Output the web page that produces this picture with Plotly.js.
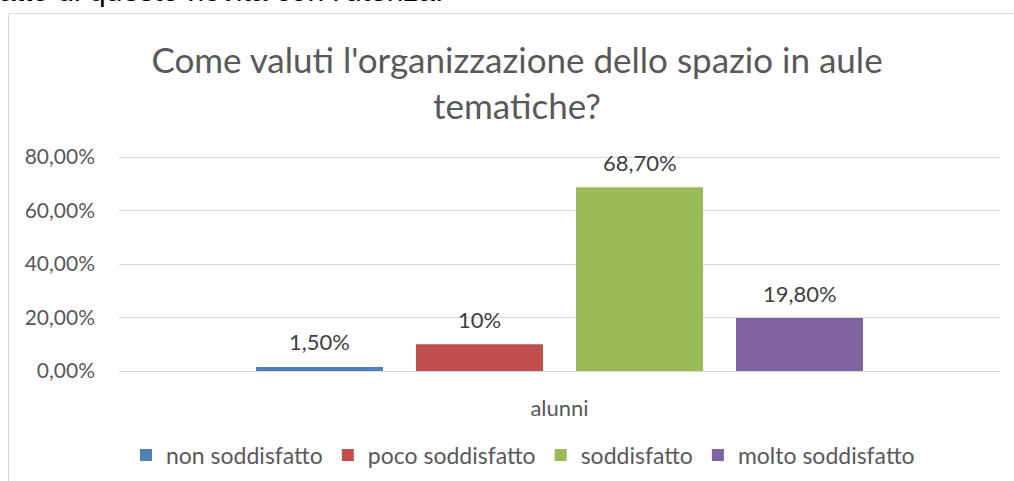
<!DOCTYPE html>
<html>
<head>
<meta charset="utf-8">
<script src="https://cdn.plot.ly/plotly-3.0.1.min.js"></script>
<style>html,body{margin:0;padding:0;background:#fff;}#chart{width:1014px;height:481px;}</style>
</head>
<body>
<div id="chart"></div>
<script>
const category = ["alunni"];
const seriesNames = ["non soddisfatto", "poco soddisfatto", "soddisfatto", "molto soddisfatto"];
const seriesValues = [0.015, 0.10, 0.687, 0.198];
const seriesLabels = ["1,50%", "10%", "68,70%", "19,80%"];
const seriesColors = ["#4f81bd", "#c0504d", "#9bbb59", "#8064a2"];
const yTickValues = [0, 0.2, 0.4, 0.6, 0.8];
const titleText = "Come valuti l'organizzazione dello spazio in aule<br>tematiche?";
const headerText = "atto di questo novità con l'utenza.";

const FONT = "Lato, 'Open Sans', sans-serif";
const W = 1014, H = 481;
const yMax = 0.804;
const pxPerUnit = 267.5;
const plotL = 119, plotR = 1000, plotB = 371;
const plotT = plotB - yMax * pxPerUnit;
const px2x = p => (p - plotL) / (plotR - plotL);
const py2y = p => (plotB - p) / (plotB - plotT);
const BARGAP = 0.2735;
const N = seriesNames.length;

const traces = seriesNames.map((name, i) => ({
  type: "bar",
  name: name,
  x: category,
  y: [seriesValues[i]],
  marker: {color: seriesColors[i], line: {width: 0}},
  hoverinfo: "skip"
}));

const labelAnnotations = seriesLabels.map((lab, i) => ({
  text: lab, showarrow: false,
  xref: "x", yref: "y",
  x: (i - (N - 1) / 2) * (1 - BARGAP) / N,
  y: seriesValues[i],
  xanchor: "center", yanchor: "middle",
  yshift: 25,
  font: {family: FONT, size: 22, color: "#404040"}
}));

const layout = {
  width: W, height: H,
  margin: {l: plotL, r: W - plotR, t: plotT, b: H - plotB, pad: 0},
  paper_bgcolor: "#ffffff",
  plot_bgcolor: "#ffffff",
  separators: ",.",
  font: {family: FONT, color: "#595959"},
  title: {
    text: titleText,
    font: {family: FONT, size: 35, color: "#595959"},
    x: 517 / W, xanchor: "center", xref: "container",
    y: 1 - 73 / H, yanchor: "top", yref: "container"
  },
  barmode: "group",
  bargap: BARGAP,
  bargroupgap: 0.206,
  showlegend: true,
  legend: {
    orientation: "h",
    xref: "container", yref: "container",
    x: 523 / W, xanchor: "center",
    y: 1 - 455 / H, yanchor: "middle",
    font: {family: FONT, size: 23, color: "#595959"},
    itemwidth: 30,
    traceorder: "normal"
  },
  xaxis: {
    type: "category",
    automargin: false,
    showgrid: false,
    showline: false,
    zeroline: false,
    ticks: "",
    tickfont: {family: FONT, size: 22, color: "#595959"},
    ticklabelstandoff: 22,
    fixedrange: true
  },
  yaxis: {
    range: [0, yMax],
    automargin: false,
    tickvals: yTickValues,
    tickformat: ".2%",
    showgrid: true,
    gridcolor: "#d9d9d9",
    gridwidth: 1,
    zeroline: true,
    zerolinecolor: "#d9d9d9",
    zerolinewidth: 1,
    showline: false,
    ticks: "",
    tickfont: {family: FONT, size: 21, color: "#595959"},
    ticklabelstandoff: 23,
    fixedrange: true
  },
  shapes: [{
    type: "rect", xref: "paper", yref: "paper",
    x0: px2x(8.5), x1: px2x(1018), y0: py2y(530), y1: py2y(13.5),
    line: {color: "#d9d9d9", width: 1}, fillcolor: "rgba(0,0,0,0)", layer: "below"
  }],
  annotations: labelAnnotations.concat([{
    text: headerText, showarrow: false,
    xref: "paper", yref: "paper",
    x: px2x(-3), xanchor: "left",
    y: py2y(9), yanchor: "bottom",
    font: {family: "'Liberation Sans', Arial, sans-serif", size: 30, color: "#000000"}
  }])
};

Plotly.newPlot("chart", traces, layout, {staticPlot: true, displayModeBar: false});
</script>
</body>
</html>
